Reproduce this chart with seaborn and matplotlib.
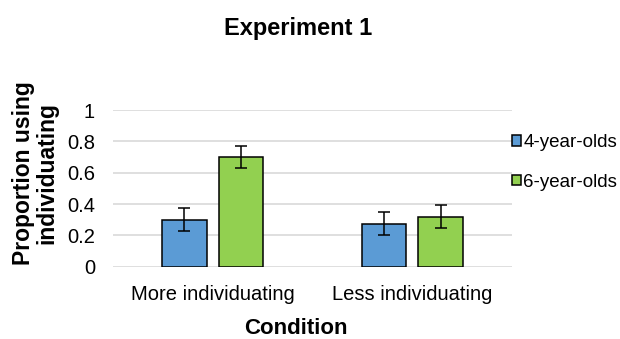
import matplotlib
matplotlib.use("Agg")
import matplotlib.pyplot as plt
from matplotlib.patches import Patch
from matplotlib.ticker import FuncFormatter
import pandas as pd
import seaborn as sns

# values
conditions = ["More individuating", "Less individuating"]
age_groups = ["4-year-olds", "6-year-olds"]
prop_4yo = [0.30, 0.275]
prop_6yo = [0.70, 0.32]
err_4yo = [0.074, 0.072]
err_6yo = [0.073, 0.076]
bar_colors = ["#5B9BD5", "#92D050"]

sns.set_theme(style="white")
plt.rcParams["font.family"] = ["Liberation Sans", "DejaVu Sans"]
plt.rcParams["text.color"] = "black"
plt.rcParams["axes.labelcolor"] = "black"

df = pd.DataFrame(
    {
        "Condition": conditions * 2,
        "Age": [age_groups[0]] * 2 + [age_groups[1]] * 2,
        "Proportion": prop_4yo + prop_6yo,
    }
)
errors = {age_groups[0]: err_4yo, age_groups[1]: err_6yo}

fig = plt.figure(figsize=(6.2, 3.39), dpi=100)
ax = fig.add_axes([113 / 620, 1 - 266.7 / 339, 399 / 620, 156.7 / 339])

sns.barplot(
    data=df,
    x="Condition",
    y="Proportion",
    hue="Age",
    order=conditions,
    hue_order=age_groups,
    palette=bar_colors,
    saturation=1,
    width=0.568,
    gap=0.21,
    edgecolor="black",
    linewidth=1.1,
    errorbar=None,
    legend=False,
    ax=ax,
    zorder=3,
)

# error bars from the given values, placed on the drawn bars
for age, container in zip(age_groups, ax.containers):
    xs = [p.get_x() + p.get_width() / 2 for p in container.patches]
    ys = [p.get_height() for p in container.patches]
    ax.errorbar(xs, ys, yerr=errors[age], fmt="none", ecolor="black",
                elinewidth=1.1, capsize=4.3, capthick=1.1, zorder=4)

ax.set_xlim(-0.5, len(conditions) - 0.5)
ax.set_ylim(0, 1)
ax.set_yticks([0, 0.2, 0.4, 0.6, 0.8, 1.0])
ax.yaxis.set_major_formatter(FuncFormatter(lambda v, _: f"{v:g}"))
ax.yaxis.grid(True, color="#D9D9D9", linewidth=1.2)
ax.set_axisbelow(True)
for side in ["top", "right", "left", "bottom"]:
    ax.spines[side].set_visible(False)
ax.tick_params(axis="both", length=0, labelsize=14.5, colors="#000000")
ax.tick_params(axis="x", pad=13)
ax.tick_params(axis="y", pad=13)

ax.set_xlabel("Condition", fontsize=16, fontweight="bold")
ax.xaxis.set_label_coords(0.459, -0.325)
ax.set_ylabel("Proportion using\nindividuating", fontsize=16.5, fontweight="bold",
              linespacing=1.0)
ax.yaxis.set_label_coords(-0.137, 0.6)

fig.text(298 / 620, 1 - 28 / 339, "Experiment 1", ha="center", va="center",
         fontsize=17, fontweight="bold")

handles = [Patch(facecolor=c, edgecolor="black", linewidth=1.1) for c in bar_colors]
ax.legend(handles, age_groups, loc="center left", bbox_to_anchor=(1.0, 0.665),
          frameon=False, fontsize=13.5, handlelength=0.5, handleheight=0.5,
          handletextpad=0.1, labelspacing=1.2, borderaxespad=0, borderpad=0,
          labelcolor="black")

fig.savefig("out.png", dpi=100)
